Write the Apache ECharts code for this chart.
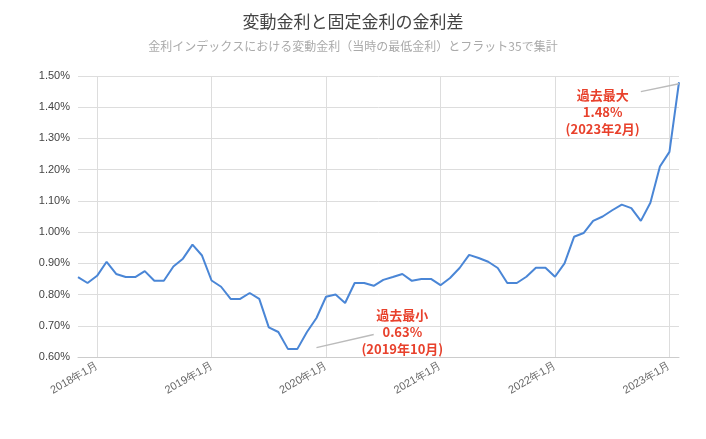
<!DOCTYPE html>
<html>
<head>
<meta charset="utf-8">
<script src="https://cdn.jsdelivr.net/npm/echarts@6/dist/echarts.min.js"></script>
<style>html,body{margin:0;background:#fff}#chart{width:706px;height:439px}</style>
</head>
<body>
<div id="chart"></div>
<script>
// 2017年11月 〜 2023年2月
const months = [];
for (let y = 2017, m = 11; y < 2023 || (y === 2023 && m <= 2); m++) {
    if (m > 12) { m = 1; y++; }
    months.push(y + '年' + m + '月');
}
const spread = [
    0.856, 0.837, 0.86, 0.905, 0.866, 0.856, 0.856, 0.875, 0.844, 0.844, 0.89, 0.915, 0.96, 0.925,
    0.845, 0.825, 0.786, 0.786, 0.805, 0.786, 0.695, 0.68, 0.626, 0.626, 0.68, 0.725,
    0.793, 0.80, 0.773, 0.837, 0.837, 0.828, 0.847, 0.856, 0.866, 0.844, 0.85, 0.85,
    0.83, 0.853, 0.885, 0.927, 0.917, 0.905, 0.885, 0.837, 0.837, 0.857, 0.886, 0.886,
    0.857, 0.90, 0.985, 0.997, 1.036, 1.05, 1.07, 1.088, 1.077, 1.036, 1.094, 1.21,
    1.257, 1.48
];
const yTicks = { min: 0.6, max: 1.5, interval: 0.1 };

const isJan = (i) => months[i].endsWith('年1月');
const red = '#e8412c';

const chart = echarts.init(document.getElementById('chart'));
chart.setOption({
    backgroundColor: '#fff',
    title: {
        text: '変動金利と固定金利の金利差',
        subtext: '金利インデックスにおける変動金利（当時の最低金利）とフラット35で集計',
        left: 'center',
        top: 8,
        itemGap: 10,
        textStyle: { fontSize: 17, fontWeight: 'normal', color: '#444', fontFamily: 'Noto Sans CJK JP' },
        subtextStyle: { fontSize: 12, color: '#aaa', fontFamily: 'Noto Sans CJK JP' }
    },
    grid: { left: 78, right: 27, top: 76, bottom: 82 },
    xAxis: {
        type: 'category',
        boundaryGap: false,
        data: months,
        axisTick: { show: false },
        axisLine: { lineStyle: { color: '#ccc' } },
        axisLabel: {
            interval: (i) => isJan(i),
            rotate: 30,
            color: '#666',
            fontSize: 11,
            margin: 8
        },
        splitLine: { show: true, interval: (i) => isJan(i), lineStyle: { color: '#ddd' } }
    },
    yAxis: {
        type: 'value',
        min: yTicks.min,
        max: yTicks.max,
        interval: yTicks.interval,
        axisLine: { show: false },
        axisTick: { show: false },
        axisLabel: { color: '#444', fontSize: 11, formatter: (v) => v.toFixed(2) + '%' },
        splitLine: { lineStyle: { color: '#ddd' } }
    },
    series: [{
        type: 'line',
        data: spread,
        symbol: 'none',
        lineStyle: { color: '#4a86d6', width: 2 },
        markLine: {
            silent: true,
            symbol: 'none',
            lineStyle: { color: '#bbb', type: 'solid', width: 1.5 },
            label: { show: false },
            data: [
                [{ coord: [24.8, 0.63] }, { coord: [30.5, 0.672] }],
                [{ coord: [62.7, 1.475] }, { coord: [59.3, 1.45] }]
            ]
        },
        markPoint: {
            symbolSize: 0,
            label: {
                show: true,
                color: red,
                fontWeight: 'bold',
                fontSize: 13,
                lineHeight: 17,
                align: 'center',
                fontFamily: 'Noto Sans CJK JP'
            },
            data: [
                { coord: [33.6, 0.68], label: { formatter: '過去最小\n0.63%\n(2019年10月)' } },
                { coord: [55.4, 1.385], label: { formatter: '過去最大\n1.48%\n(2023年2月)' } }
            ]
        }
    }]
});
window.addEventListener('resize', () => chart.resize());
</script>
</body>
</html>
